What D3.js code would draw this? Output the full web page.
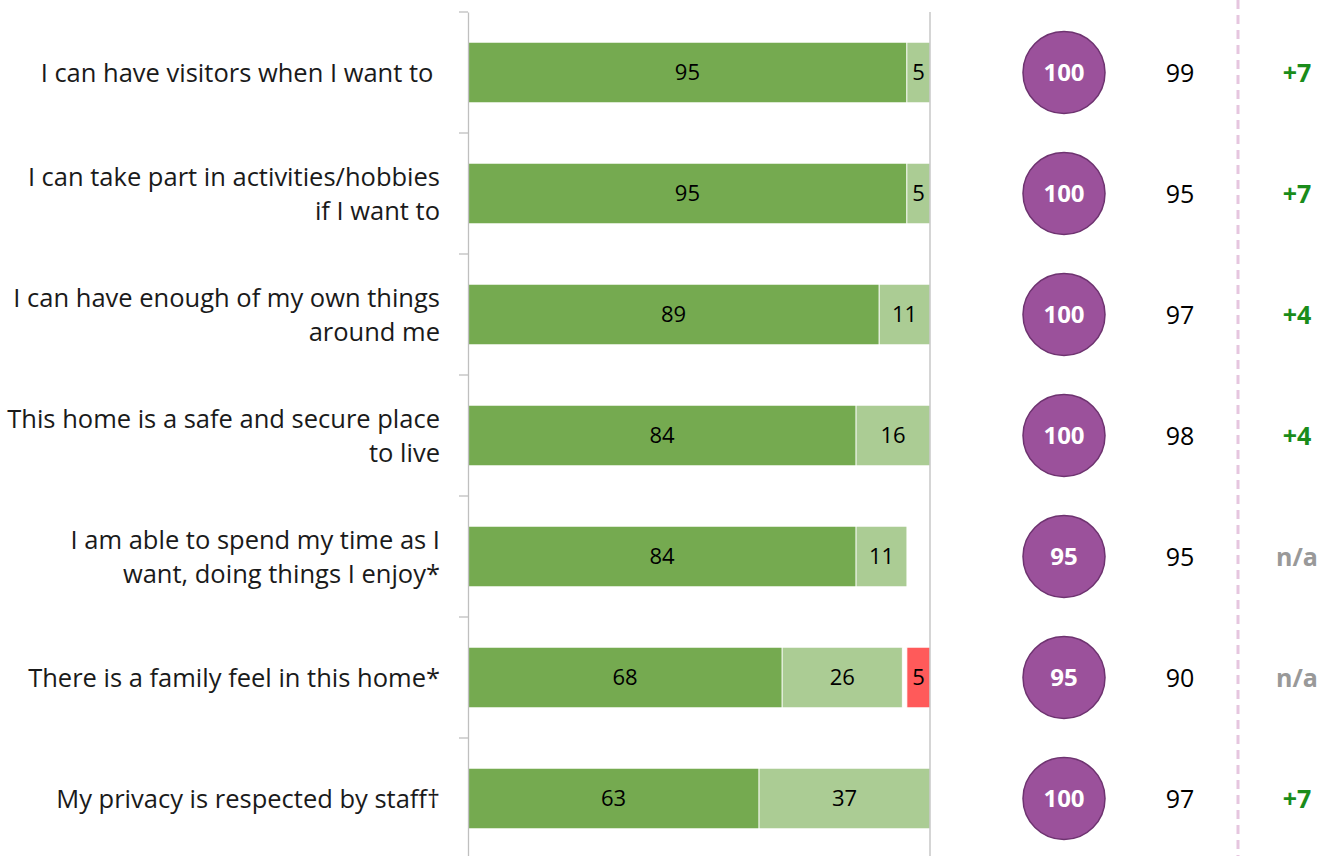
<!DOCTYPE html>
<html>
<head>
<meta charset="utf-8">
<script src="https://cdn.jsdelivr.net/npm/d3@7"></script>
<style>
  body { margin: 0; background: #fff; }
  text { font-family: "Open Sans", sans-serif; }
</style>
</head>
<body>
<script>
// chart data
var categories = [
  ["I can have visitors when I want to "],
  ["I can take part in activities/hobbies", "if I want to"],
  ["I can have enough of my own things", "around me"],
  ["This home is a safe and secure place", "to live"],
  ["I am able to spend my time as I", "want, doing things I enjoy*"],
  ["There is a family feel in this home*"],
  ["My privacy is respected by staff\u2020"]
];
var agree = [95, 95, 89, 84, 84, 68, 63];
var neutral = [5, 5, 11, 16, 11, 26, 37];
var blank = [0, 0, 0, 0, 5, 1, 0];
var disagree = [0, 0, 0, 0, 0, 5, 0];
var homeScore = [100, 100, 100, 100, 95, 95, 100];
var average = [99, 95, 97, 98, 95, 90, 97];
var change = ["+7", "+7", "+4", "+4", "n/a", "n/a", "+7"];

var W = 1338, H = 856;
var svg = d3.select('body').append('svg')
  .attr('width', W)
  .attr('height', H);

var x = d3.scaleLinear().domain([0, 100]).range([468, 930]);
var y = d3.scaleBand().domain(d3.range(categories.length))
  .range([12, 859]).paddingInner(0.5).paddingOuter(0.25);
var band = d3.scaleBand().domain(d3.range(categories.length)).range([12, 859]);

// stacked segments
var series = [
  {vals: agree, color: '#75AA50'},
  {vals: neutral, color: '#ABCC94'},
  {vals: blank, color: 'none'},
  {vals: disagree, color: '#FF5A5A'}
];

for (var i = 0; i < categories.length; i++) {
  var start = 0;
  for (var s = 0; s < series.length; s++) {
    var v = series[s].vals[i];
    if (v > 0 && series[s].color != 'none') {
      svg.append('rect')
        .attr('x', x(start))
        .attr('y', y(i))
        .attr('width', x(start + v) - x(start))
        .attr('height', y.bandwidth())
        .attr('fill', series[s].color)
        .attr('stroke', '#fff')
        .attr('stroke-width', 0.8);
      svg.append('text')
        .attr('x', (x(start) + x(start + v)) / 2)
        .attr('y', y(i) + y.bandwidth() / 2)
        .attr('dy', '0.36em')
        .attr('text-anchor', 'middle')
        .attr('font-size', 22)
        .attr('fill', '#000')
        .text(v);
    }
    start += v;
  }
}

// axis lines
var axisG = svg.append('g').attr('transform', 'translate(468,0)');
axisG.call(d3.axisLeft(band).tickSize(0).tickFormat(''));
axisG.select('.domain').attr('stroke', '#BFBFBF').attr('stroke-width', 1.3);
var bounds = d3.range(categories.length + 1).map(function(d) { return 12 + d * band.step(); });
axisG.selectAll('line.tk').data(bounds).enter().append('line')
  .attr('class', 'tk')
  .attr('x1', -9).attr('x2', 0)
  .attr('y1', function(d) { return d; }).attr('y2', function(d) { return d; })
  .attr('stroke', '#BFBFBF').attr('stroke-width', 1.3);

svg.append('line')
  .attr('x1', x(100)).attr('x2', x(100))
  .attr('y1', 12).attr('y2', H)
  .attr('stroke', '#BFBFBF').attr('stroke-width', 1.3);

// category labels
for (var i = 0; i < categories.length; i++) {
  var lines = categories[i];
  var cy = y(i) + y.bandwidth() / 2;
  var t = svg.append('text')
    .attr('text-anchor', 'end')
    .attr('font-size', 25.5)
    .attr('fill', '#1a1a1a');
  for (var l = 0; l < lines.length; l++) {
    t.append('tspan')
      .attr('x', 440)
      .attr('y', cy + (l - (lines.length - 1) / 2) * 34)
      .attr('dy', '0.36em')
      .attr('xml:space', 'preserve')
      .text(lines[l]);
  }
}

// home score circles
svg.selectAll('circle.score').data(homeScore).enter().append('circle')
  .attr('class', 'score')
  .attr('cx', 1064)
  .attr('cy', function(d, i) { return y(i) + y.bandwidth() / 2; })
  .attr('r', 41)
  .attr('fill', '#9B519B')
  .attr('stroke', '#6E3370')
  .attr('stroke-width', 1.5);
svg.selectAll('text.score').data(homeScore).enter().append('text')
  .attr('class', 'score')
  .attr('x', 1064)
  .attr('y', function(d, i) { return y(i) + y.bandwidth() / 2; })
  .attr('dy', '0.36em')
  .attr('text-anchor', 'middle')
  .attr('font-size', 24)
  .attr('font-weight', 'bold')
  .attr('fill', '#fff')
  .text(function(d) { return d; });

// average
svg.selectAll('text.avg').data(average).enter().append('text')
  .attr('class', 'avg')
  .attr('x', 1180)
  .attr('y', function(d, i) { return y(i) + y.bandwidth() / 2; })
  .attr('dy', '0.36em')
  .attr('text-anchor', 'middle')
  .attr('font-size', 25)
  .attr('fill', '#000')
  .text(function(d) { return d; });

// dashed divider
svg.append('line')
  .attr('x1', 1238).attr('x2', 1238)
  .attr('y1', 0).attr('y2', H)
  .attr('stroke', '#E6C6DF')
  .attr('stroke-width', 3)
  .attr('stroke-dasharray', '9,6');

// change
svg.selectAll('text.chg').data(change).enter().append('text')
  .attr('class', 'chg')
  .attr('x', 1297)
  .attr('y', function(d, i) { return y(i) + y.bandwidth() / 2; })
  .attr('dy', '0.36em')
  .attr('text-anchor', 'middle')
  .attr('font-size', 25)
  .attr('font-weight', 'bold')
  .attr('fill', function(d) { return d == 'n/a' ? '#999999' : '#1A8C1A'; })
  .text(function(d) { return d; });
</script>
</body>
</html>
